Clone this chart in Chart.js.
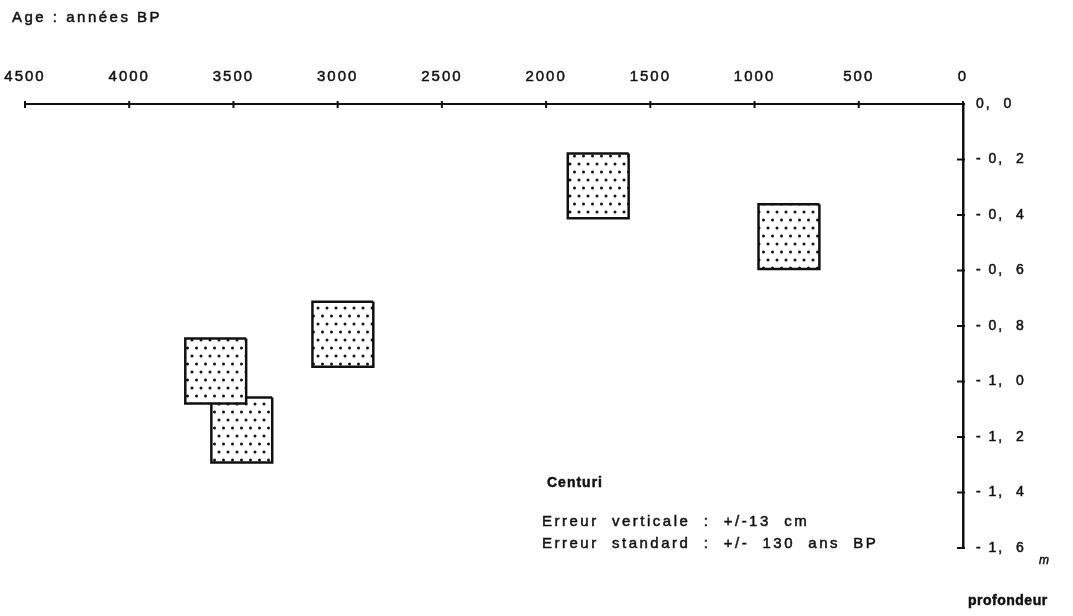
<!DOCTYPE html>
<html>
<head>
<meta charset="utf-8">
<title>Centuri - âge / profondeur</title>
<script src="https://cdn.jsdelivr.net/npm/chart.js@4/dist/chart.umd.min.js"></script>
<style>
  html, body { margin: 0; padding: 0; background: #fff; }
  #ageDepthChart { display: block; }
</style>
</head>
<body>
<canvas id="ageDepthChart" width="1073" height="616"></canvas>
<script>
//=[ Data ]=====================================================================

// centre of each dated sample: age (years BP) and depth (m, negative down)
const sampleAges = [1750, 835, 2975, 3585, 3460];
const sampleDepths = [-0.295, -0.478, -0.83, -0.962, -1.175];

// half size of the error boxes, as drawn
const ageHalfError = 146;
const depthHalfError = 0.117;

const ageRange = [0, 4500];
const depthRange = [-1.6, 0];

const INK = "#111";
const FONT = "'Liberation Sans', Arial, sans-serif";

//=[ Helpers ]==================================================================

function dotPattern() {
  const c = document.createElement("canvas");
  c.width = 9;
  c.height = 16;
  const g = c.getContext("2d");
  g.fillStyle = "#fff";
  g.fillRect(0, 0, 9, 16);
  g.fillStyle = "#111";
  [[3, 4], [7.5, 12]].forEach(([cx, cy]) => {
    g.beginPath();
    g.arc(cx, cy, 1.5, 0, Math.PI * 2);
    g.fill();
  });
  return g.createPattern(c, "repeat");
}

function boxPath(age, depth) {
  const a0 = age - ageHalfError;
  const a1 = age + ageHalfError;
  const d0 = depth - depthHalfError;
  const d1 = depth + depthHalfError;
  return [
    { x: a0, y: d1 },
    { x: a1, y: d1 },
    { x: a1, y: d0 },
    { x: a0, y: d0 },
    { x: a0, y: d1 },
  ];
}

function depthLabel(value) {
  const v = Math.round(Math.abs(value) * 10);
  const txt = Math.floor(v / 10) + ",  " + (v % 10);
  return v === 0 ? txt : "- " + txt;
}

function inkText(ctx, text, x, y) {
  ctx.fillText(text, x, y);
  ctx.strokeText(text, x, y);
}

//=[ Decorations: crossing ticks and free text ]================================

const decorPlugin = {
  id: "decor",
  beforeDraw(chart) {
    chart.ctx.letterSpacing = "2px";
  },
  afterDraw(chart) {
    const { ctx, scales } = chart;
    const x = scales.x;
    const y = scales.y;
    ctx.save();
    ctx.strokeStyle = INK;
    ctx.lineWidth = 2;
    const axisY = chart.chartArea.top;
    const axisX = chart.chartArea.right;
    x.ticks.forEach((t) => {
      const px = x.getPixelForValue(t.value);
      ctx.beginPath();
      ctx.moveTo(px, axisY - 3);
      ctx.lineTo(px, axisY + 4);
      ctx.stroke();
    });
    y.ticks.forEach((t) => {
      const py = y.getPixelForValue(t.value);
      ctx.beginPath();
      ctx.moveTo(axisX - 6, py);
      ctx.lineTo(axisX + 2, py);
      ctx.stroke();
    });

    ctx.fillStyle = INK;
    ctx.lineWidth = 0.5;
    ctx.textBaseline = "middle";
    ctx.textAlign = "left";

    ctx.letterSpacing = "2.5px";
    ctx.font = "15px " + FONT;
    inkText(ctx, "Age : années BP", 12, 18);

    ctx.letterSpacing = "1px";
    ctx.font = "bold 14px " + FONT;
    inkText(ctx, "Centuri", 547, 483);

    ctx.letterSpacing = "2.5px";
    ctx.font = "15px " + FONT;
    inkText(ctx, "Erreur  verticale  :  +/-13  cm", 542, 522);
    inkText(ctx, "Erreur  standard  :  +/-  130  ans  BP", 542, 544);

    ctx.letterSpacing = "0.5px";
    ctx.font = "bold 14px " + FONT;
    inkText(ctx, "profondeur", 968, 601);

    ctx.letterSpacing = "0px";
    ctx.font = "italic 12px " + FONT;
    inkText(ctx, "m", 1039, 561);
    ctx.restore();
  },
};

//=[ Chart ]====================================================================

const pattern = dotPattern();

const ageDepthConfig = {
  type: "scatter",
  data: {
    datasets: sampleAges.map((age, i) => ({
      data: boxPath(age, sampleDepths[i]),
      showLine: true,
      fill: "shape",
      backgroundColor: pattern,
      borderColor: INK,
      borderWidth: 2.5,
      borderJoinStyle: "miter",
      pointRadius: 0,
      tension: 0,
    })),
  },
  options: {
    responsive: false,
    animation: false,
    devicePixelRatio: 1,
    layout: {
      padding: { left: 25, top: 68, right: 0, bottom: 68 },
    },
    scales: {
      x: {
        type: "linear",
        position: "top",
        reverse: true,
        min: ageRange[0],
        max: ageRange[1],
        afterFit: (scale) => {
          scale.height = 36;
          scale.paddingLeft = 0;
          scale.paddingRight = 0;
        },
        ticks: {
          stepSize: 500,
          padding: 18,
          color: INK,
          maxRotation: 0,
          textStrokeColor: INK,
          textStrokeWidth: 0.5,
          font: { family: FONT, size: 15 },
          callback: (value) => String(value),
        },
        grid: { drawOnChartArea: false, drawTicks: false },
        border: { display: true, width: 2, color: INK },
      },
      y: {
        type: "linear",
        position: "right",
        min: depthRange[0],
        max: depthRange[1],
        afterFit: (scale) => {
          scale.width = 110;
          scale.paddingTop = 0;
          scale.paddingBottom = 0;
        },
        ticks: {
          stepSize: 0.2,
          padding: 13,
          color: INK,
          textStrokeColor: INK,
          textStrokeWidth: 0.5,
          font: { family: FONT, size: 14 },
          callback: (value) => depthLabel(value),
        },
        grid: { drawOnChartArea: false, drawTicks: false },
        border: { display: true, width: 2.5, color: INK },
      },
    },
    plugins: {
      legend: { display: false },
      tooltip: { enabled: false },
    },
  },
  plugins: [decorPlugin],
};

new Chart(document.getElementById("ageDepthChart"), ageDepthConfig);
</script>
</body>
</html>
